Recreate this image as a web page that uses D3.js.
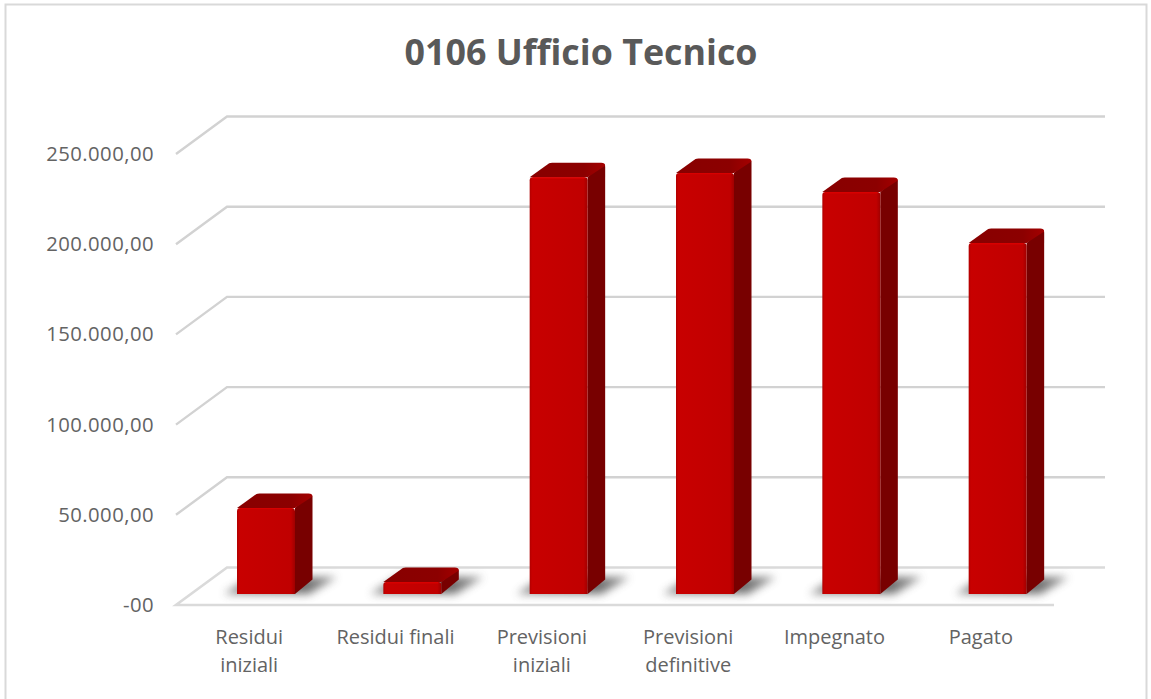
<!DOCTYPE html>
<html><head><meta charset="utf-8"><script src="https://cdn.jsdelivr.net/npm/d3@7"></script>
<style>html,body{margin:0;background:#fff}svg{display:block}text{font-family:"Open Sans",sans-serif}</style></head>
<body><svg id="c" width="1151" height="699"></svg>
<script>
const categories=[["Residui","iniziali"],["Residui finali"],["Previsioni","iniziali"],["Previsioni","definitive"],["Impegnato"],["Pagato"]];
const values=[47700,6600,231000,233400,222800,194500];
const ticks=[0,50000,100000,150000,200000,250000];
const tickLabels=["-00","50.000,00","100.000,00","150.000,00","200.000,00","250.000,00"];
const title="0106 Ufficio Tecnico";
const svg=d3.select("#c");
const defs=svg.append("defs");
defs.append("filter").attr("id","blur").attr("x","-30%").attr("y","-60%").attr("width","160%").attr("height","220%")
 .append("feGaussianBlur").attr("stdDeviation",4);
const lg=defs.append("linearGradient").attr("id","front");
[[0,"#b00000"],[0.04,"#c80000"],[0.93,"#c00000"],[1,"#a00000"]].forEach(s=>lg.append("stop").attr("offset",s[0]).attr("stop-color",s[1]));
const lt=defs.append("linearGradient").attr("id","top");
[[0,"#880000"],[0.72,"#8c0000"],[1,"#a40000"]].forEach(s=>lt.append("stop").attr("offset",s[0]).attr("stop-color",s[1]));
const ls=defs.append("linearGradient").attr("id","shadow");
[[0,"#777"],[0.7,"#555"],[1,"#888"]].forEach(s=>ls.append("stop").attr("offset",s[0]).attr("stop-color",s[1]));

const x=d3.scaleBand().domain(d3.range(categories.length)).range([176,1054]);
const y=d3.scaleLinear().domain([0,250000]).range([605,154]);
const gridDx=51,gridDy=37.5;
const barW=58,barInset=61,bx=17.5,by=14.5,base=11;

svg.append("rect").attr("x",5.5).attr("y",4.5).attr("width",1141).attr("height",700).attr("fill","#fff").attr("stroke","#d9d9d9").attr("stroke-width",2);

svg.append("text").attr("x",581).attr("y",65).attr("text-anchor","middle").attr("font-size",35.8).attr("font-weight",700).attr("fill","#595959").text(title);

ticks.forEach(t=>{
  const yy=y(t);
  const [x0,x1]=x.range();
  if(t===0){
    svg.append("path").attr("d",`M${x1},${yy}H${x0}L${x0+gridDx},${yy-gridDy}H${x1+gridDx}`).attr("fill","none").attr("stroke","#dadada").attr("stroke-width",2.6);
  } else {
    svg.append("path").attr("d",`M${x0},${yy}L${x0+gridDx},${yy-gridDy}H${x1+gridDx}`).attr("fill","none").attr("stroke","#d2d2d2").attr("stroke-width",2.4);
  }
});
svg.selectAll(".yl").data(ticks).join("text").attr("x",154).attr("y",d=>y(d)+7).attr("text-anchor","end")
 .attr("font-size",20.3).attr("letter-spacing",0.45).attr("fill","#636363").text((d,i)=>tickLabels[i]);
categories.forEach((c,i)=>{
  const cx=x(i)+x.bandwidth()/2;
  c.forEach((s,j)=>svg.append("text").attr("x",cx).attr("y",644+j*28).attr("text-anchor","middle").attr("font-size",20).attr("fill","#636363").text(s));
});
values.forEach((v,i)=>{
  const l=x(i)+barInset,r=l+barW,b=y(0)-base,t=y(v)-base;
  const g=svg.append("g");
  g.append("path").attr("d",`M${l-13},${b}L${l+14},${b-17}H${r+42}L${r+14},${b}Z`).attr("fill","url(#shadow)").attr("opacity",.85).attr("filter","url(#blur)");
  g.append("path").attr("d",`M${r},${t}L${r+bx-3},${t-by+1}Q${r+bx},${t-by+1} ${r+bx},${t-by+4}V${b-by}L${r},${b}Z`).attr("fill","#780000");
  g.append("path").attr("d",`M${l},${t}L${l+bx+2},${t-by+.5}Q${l+bx+3},${t-by} ${l+bx+5},${t-by}H${r+bx-4}Q${r+bx},${t-by} ${r+bx},${t-by+3}L${r},${t}Z`).attr("fill","url(#top)");
  g.append("path").attr("d",`M${l},${b}V${t+3}Q${l},${t} ${l+3},${t}H${r-3}Q${r},${t} ${r},${t+3}V${b}Z`).attr("fill","url(#front)");
  g.append("path").attr("d",`M${l+3},${t+.7}H${r-3}`).attr("stroke","#d80000").attr("stroke-width",1.4);
});
</script></body></html>
